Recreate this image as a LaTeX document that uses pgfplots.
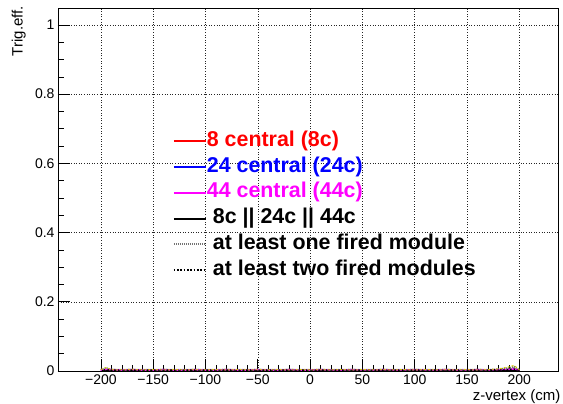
\documentclass[border=0pt]{standalone}
\usepackage{pgfplots}
\pgfplotsset{compat=1.18}
\usepackage{pgfplotstable}
\usepackage{fontspec}
\setmainfont{Liberation Sans}
\definecolor{rootred}{RGB}{255,0,0}
\definecolor{rootblue}{RGB}{0,0,255}
\definecolor{rootmag}{RGB}{255,0,255}
\definecolor{rootyel}{RGB}{210,200,0}

% efficiency vs z-vertex (all close to zero)
\pgfplotstableread{
z    c8    c24   c44   any   one   two   yel
-200 0.000 0.000 0.002 0.000 0.003 0.002 0.004
-195 0.000 0.000 0.004 0.000 0.008 0.003 0.010
-190 0.000 0.000 0.003 0.000 0.004 0.002 0.004
-180 0.000 0.000 0.002 0.000 0.003 0.002 0.003
-170 0.000 0.000 0.003 0.000 0.004 0.002 0.005
-160 0.000 0.000 0.002 0.000 0.003 0.002 0.003
-150 0.000 0.000 0.002 0.000 0.003 0.002 0.004
-140 0.000 0.000 0.003 0.000 0.004 0.002 0.003
-130 0.000 0.000 0.002 0.000 0.003 0.002 0.004
-120 0.000 0.000 0.002 0.000 0.003 0.002 0.003
-110 0.000 0.000 0.003 0.000 0.004 0.002 0.004
-100 0.000 0.000 0.002 0.000 0.003 0.002 0.003
-90  0.000 0.000 0.002 0.000 0.003 0.002 0.004
-80  0.000 0.000 0.003 0.000 0.004 0.002 0.003
-70  0.000 0.000 0.002 0.000 0.003 0.002 0.004
-60  0.000 0.000 0.002 0.000 0.003 0.002 0.003
-50  0.000 0.000 0.003 0.000 0.004 0.002 0.004
-40  0.000 0.000 0.002 0.000 0.003 0.002 0.003
-30  0.000 0.000 0.002 0.000 0.003 0.002 0.004
-20  0.000 0.000 0.003 0.000 0.004 0.002 0.003
-10  0.000 0.000 0.002 0.000 0.003 0.002 0.004
0    0.000 0.000 0.002 0.000 0.003 0.002 0.003
10   0.000 0.000 0.003 0.000 0.004 0.002 0.004
20   0.000 0.000 0.002 0.000 0.003 0.002 0.003
30   0.000 0.000 0.002 0.000 0.003 0.002 0.004
40   0.000 0.000 0.003 0.000 0.004 0.002 0.003
50   0.000 0.000 0.002 0.000 0.003 0.002 0.004
60   0.000 0.000 0.002 0.000 0.003 0.002 0.003
70   0.000 0.000 0.003 0.000 0.004 0.002 0.004
80   0.000 0.000 0.002 0.000 0.003 0.002 0.003
90   0.000 0.000 0.002 0.000 0.003 0.002 0.004
100  0.000 0.000 0.003 0.000 0.004 0.002 0.003
110  0.000 0.000 0.002 0.000 0.003 0.002 0.004
120  0.000 0.000 0.002 0.000 0.003 0.002 0.003
130  0.000 0.000 0.003 0.000 0.004 0.002 0.004
140  0.000 0.000 0.002 0.000 0.003 0.002 0.003
150  0.000 0.000 0.002 0.000 0.003 0.002 0.004
160  0.000 0.000 0.003 0.000 0.004 0.002 0.003
170  0.000 0.000 0.002 0.000 0.003 0.002 0.004
180  0.000 0.000 0.003 0.000 0.005 0.003 0.006
190  0.000 0.000 0.004 0.000 0.008 0.004 0.012
195  0.000 0.000 0.005 0.000 0.012 0.005 0.016
200  0.000 0.000 0.002 0.000 0.003 0.002 0.004
}\effdata

\begin{document}
\begin{tikzpicture}
  \path[use as bounding box] (-58pt,-33pt) rectangle (505pt,371pt);
  \begin{axis}[
    at={(0,0)}, anchor=south west,
    width=500pt, height=363pt, scale only axis,
    xmin=-241, xmax=237, ymin=0, ymax=1.049,
    xtick={-200,-150,-100,-50,0,50,100,150,200},
    xticklabels={−200,−150,−100,−50,0,50,100,150,200},
    minor x tick num=4,
    ytick={0,0.2,0.4,0.6,0.8,1},
    yticklabels={0,0.2,0.4,0.6,0.8,1},
    minor y tick num=3,
    xtick pos=bottom, ytick pos=left,
    major tick length=12pt, minor tick length=6pt,
    tick style={black, line width=0.6pt},
    axis line style={black, line width=0.8pt},
    tick label style={font=\fontsize{14}{16}\selectfont},
    grid=major,
    major grid style={black!85, line width=0.45pt, dash pattern=on 1pt off 1.6pt},
    xlabel={z-vertex (cm)},
    ylabel={Trig.eff.},
    label style={font=\fontsize{15}{17}\selectfont},
    xlabel style={at={(axis description cs:1.005,-0.05)}, anchor=north east, inner sep=0pt},
    ylabel style={at={(axis description cs:-0.064,1.006)}, anchor=south east, inner sep=0pt},
    legend image code/.code={\draw[#1] (0pt,0pt) -- (32pt,0pt);},
    legend style={
      at={(rel axis cs:0.229,0.661)}, anchor=north west,
      draw=none, fill=none, inner sep=0pt,
      font=\fontsize{21.4}{25}\selectfont\bfseries,
      nodes={inner xsep=0pt, inner ysep=0pt, text height=15pt, text depth=5pt},
      row sep=5.8pt, column sep=0pt,
      cells={anchor=west}
    },
  ]
    \addplot[rootred, line width=2pt] table[x=z, y=c8] {\effdata};
    \addlegendentry{\textcolor{rootred}{8 central (8c)}}
    \addplot[rootblue, line width=2pt] table[x=z, y=c24] {\effdata};
    \addlegendentry{\textcolor{rootblue}{24 central (24c)}}
    \addplot[rootmag, line width=2pt] table[x=z, y=c44] {\effdata};
    \addlegendentry{\textcolor{rootmag}{44 central (44c)}}
    \addplot[black, line width=2.2pt] table[x=z, y=any] {\effdata};
    \addlegendentry{\hspace*{6pt}8c || 24c || 44c}
    \addplot[black!55, line width=2pt, dash pattern=on 1pt off 1pt] table[x=z, y=one] {\effdata};
    \addlegendentry{\hspace*{6pt}at least one fired module}
    \addplot[black, line width=1.8pt, dash pattern=on 1.6pt off 1.7pt] table[x=z, y=two] {\effdata};
    \addlegendentry{\hspace*{6pt}at least two fired modules}
    \addplot[rootyel, line width=1pt, dash pattern=on 2pt off 2pt, forget plot] table[x=z, y=yel] {\effdata};
    \addplot[rootmag, line width=1pt, dash pattern=on 1pt off 3pt, forget plot] table[x=z, y=c44] {\effdata};
  \end{axis}
\end{tikzpicture}
\end{document}
